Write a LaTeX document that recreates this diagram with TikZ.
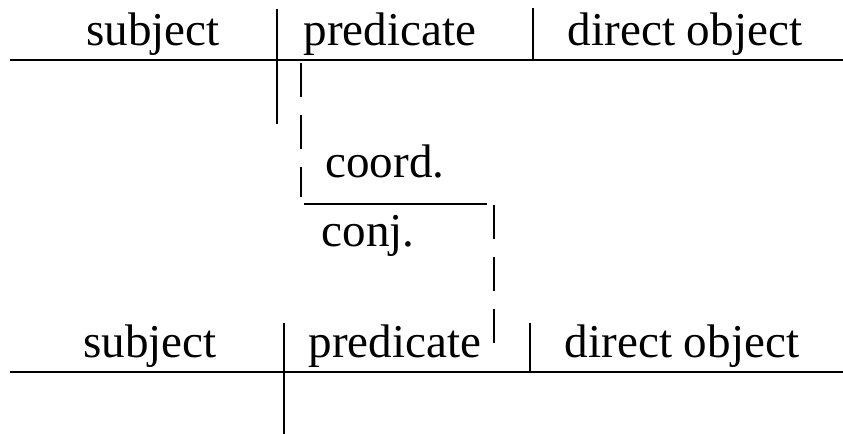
\documentclass[tikz,border=0pt]{standalone}
\usepackage{fontspec}
\setmainfont{Liberation Serif}
\usetikzlibrary{positioning}

\begin{document}
\begin{tikzpicture}[
              word/.style={anchor=base, inner sep=0pt, font=\fontsize{13.4}{16}\selectfont},
              rule/.style={line width=0.8pt, black},
              dashrule/.style={line width=0.75pt, black, dash pattern=on 0.34cm off 0.18cm},
             ]
\useasboundingbox (0,0) rectangle (8.43,4.34);
% first clause
\coordinate (topL) at (0.10,3.74);
\coordinate (topR) at (8.43,3.74);
\coordinate (topA) at (2.77,4.25);
\coordinate (topB) at (2.77,3.10);
\coordinate (topC) at (5.33,4.26);
\coordinate (topD) at (5.33,3.74);
\node[word] (subj1) at (1.53,3.88) {subject};
\node[word] (pred1) at (3.90,3.88) {predicate};
\node[word] (dobj1) at (6.85,3.88) {direct object};
\draw[rule] (topL) -- (topR);
\draw[rule] (topA) -- (topB);
\draw[rule] (topC) -- (topD);
% conjunction
\coordinate (dashA) at (3.01,3.71);
\coordinate (dashB) at (3.01,2.37);
\coordinate (conjL) at (3.04,2.30);
\coordinate (conjR) at (4.87,2.30);
\coordinate (dashC) at (4.94,2.29);
\coordinate (dashD) at (4.94,0.84);
\node[word] (coord) at (3.85,2.56) {coord.};
\node[word] (conj) at (3.68,1.87) {conj.};
\draw[dashrule] (dashA) -- (dashB);
\draw[rule] (conjL) -- (conjR);
\draw[dashrule] (dashC) -- (dashD);
% second clause
\coordinate (botL) at (0.10,0.62);
\coordinate (botR) at (8.43,0.62);
\coordinate (botA) at (2.84,1.11);
\coordinate (botB) at (2.84,0);
\coordinate (botC) at (5.30,1.11);
\coordinate (botD) at (5.30,0.62);
\node[word] (subj2) at (1.50,0.76) {subject};
\node[word] (pred2) at (3.95,0.76) {predicate};
\node[word] (dobj2) at (6.82,0.76) {direct object};
\draw[rule] (botL) -- (botR);
\draw[rule] (botA) -- (botB);
\draw[rule] (botC) -- (botD);
\end{tikzpicture}
\end{document}
